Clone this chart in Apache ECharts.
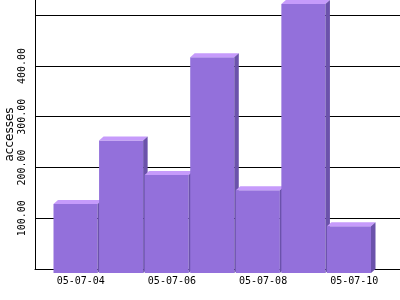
<!DOCTYPE html>
<html><head><meta charset="utf-8">
<script src="https://cdn.jsdelivr.net/npm/echarts@6/dist/echarts.min.js"></script>
<style>html,body{margin:0;padding:0;background:#fff}#c{width:400px;height:300px}</style>
</head><body><div id="c"></div>
<script>
const categories = ['05-07-04','05-07-05','05-07-06','05-07-07','05-07-08','05-07-09','05-07-10'];
const accesses = [136, 261, 193, 425, 163, 530, 92];
const yTickValues = [100, 200, 300, 400];
const yTickLabels = ['100.00', '200.00', '300.00', '400.00'];
const xLabelCategories = ['05-07-04', '05-07-06', '05-07-08', '05-07-10'];

const FRONT = '#9370db', TOP = '#c69bfb', SIDE = '#6b52ab';
const DX = 4.5, DY = 4;
const chart = echarts.init(document.getElementById('c'), null, {renderer: 'canvas'});
chart.setOption({
  animation: false,
  backgroundColor: '#fff',
  grid: [
    {left: 35, right: 0, top: 0, bottom: 31, containLabel: false, outerBoundsMode: 'none'},
    {left: 58, right: 23, top: 0, bottom: 31, containLabel: false, outerBoundsMode: 'none'}
  ],
  xAxis: [
    {gridIndex: 0, type: 'value', min: 0, max: 1,
     axisLine: {show: true, onZero: false, lineStyle: {color: '#000', width: 1}},
     axisTick: {show: false}, axisLabel: {show: false}, splitLine: {show: false}},
    {gridIndex: 1, type: 'category', data: categories, boundaryGap: true,
     axisLine: {show: false}, axisTick: {show: false},
     axisLabel: {interval: 0, formatter: v => xLabelCategories.includes(v) ? v : '',
       fontFamily: 'DejaVu Sans Mono', fontSize: 10, color: '#000', margin: 7}}
  ],
  yAxis: [
    {gridIndex: 0, type: 'value', min: 0, max: 530, interval: 100,
     name: 'accesses', nameLocation: 'middle', nameRotate: 90, nameGap: 19, nameMoveOverlap: false,
     nameTextStyle: {fontFamily: 'DejaVu Sans', fontSize: 12, color: '#000'},
     axisLine: {show: true, lineStyle: {color: '#000'}}, axisTick: {show: false},
     axisLabel: {rotate: 90, fontFamily: 'DejaVu Sans Mono', fontSize: 10, color: '#000', margin: 8,
       formatter: v => { const i = yTickValues.indexOf(v); return i < 0 ? '' : yTickLabels[i]; }},
     splitLine: {show: true, showMaxLine: false, lineStyle: {color: '#000', width: 1}}},
    {gridIndex: 1, type: 'value', min: 0, max: 530, show: false}
  ],
  series: [{
    type: 'custom', xAxisIndex: 1, yAxisIndex: 1,
    data: accesses.map((v, i) => [i, v]),
    renderItem: (params, api) => {
      const i = api.value(0), v = api.value(1);
      const top = api.coord([i, v]), base = api.coord([i, 0]);
      const band = api.size([1, 0])[0];
      const w = band - 1.5;
      const x0 = top[0] - band / 2, x1 = x0 + w;
      const yt = top[1], yb = base[1];
      return {type: 'group', children: [
        {type: 'rect', shape: {x: x0 - DX, y: yt + DY, width: w, height: yb - yt}, style: {fill: FRONT}},
        {type: 'polygon', shape: {points: [[x0 - DX, yt + DY], [x1 - DX, yt + DY], [x1, yt], [x0, yt]]}, style: {fill: TOP}},
        {type: 'polygon', shape: {points: [[x1 - DX, yt + DY], [x1, yt], [x1, yb], [x1 - DX, yb + DY]]}, style: {fill: SIDE}}
      ]};
    }
  }]
});
</script></body></html>
